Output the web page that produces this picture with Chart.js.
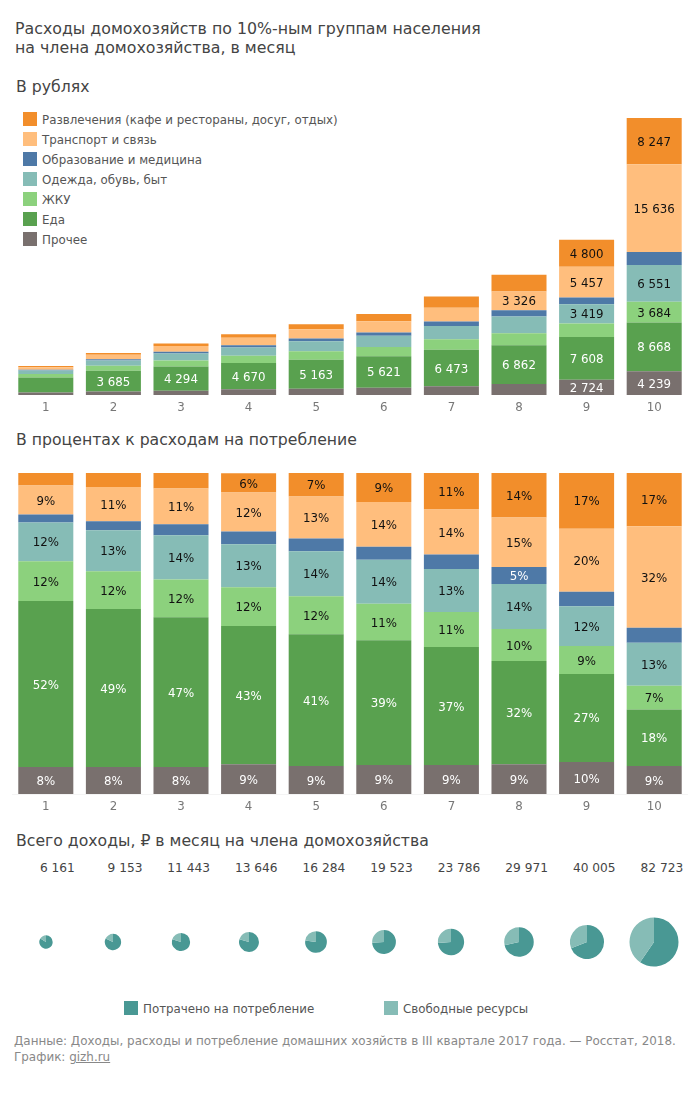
<!DOCTYPE html>
<html lang="ru">
<head>
<meta charset="utf-8">
<title>Расходы домохозяйств</title>
<script src="https://cdn.jsdelivr.net/npm/chart.js@4"></script>
<style>
  html,body{margin:0;padding:0;background:#fff;}
  body{position:relative;width:699px;height:1099px;overflow:hidden;font-family:"DejaVu Sans",sans-serif;color:#444;}
  .abs{position:absolute;white-space:nowrap;}
  canvas{position:absolute;}
  .h1{left:15px;top:19px;font-size:15.8px;line-height:19px;color:#444;}
  .h2{left:16px;font-size:15.7px;line-height:20px;color:#444;}
  .legend-row{left:23px;height:14px;font-size:11.85px;line-height:14px;color:#555;}
  .legend-row i{position:absolute;left:0;top:0;width:14px;height:14px;}
  .legend-row span{position:absolute;left:19px;top:1px;}
  .income{top:860px;font-size:12.2px;line-height:16px;color:#444;text-align:right;}
  .foot{left:14px;top:1033px;font-size:11.95px;line-height:16px;color:#888;}
  .foot a{color:#888;text-decoration:underline;}
</style>
</head>
<body>
<div class="abs h1">Расходы домохозяйств по 10%-ным группам населения<br>на члена домохозяйства, в месяц</div>
<div class="abs h2" style="top:77px">В рублях</div>
<div class="abs h2" style="top:430px">В процентах к расходам на потребление</div>
<div class="abs h2" style="top:831px">Всего доходы, ₽ в месяц на члена домохозяйства</div>
<div id="legend"></div>
<canvas id="rubChart" style="left:12px;top:118px" width="676" height="302"></canvas>
<canvas id="pctChart" style="left:12px;top:473px" width="676" height="346"></canvas>
<div id="pies"></div>
<div class="abs legend-row" style="left:124px;top:1001px"><i style="background:#499894"></i><span>Потрачено на потребление</span></div>
<div class="abs legend-row" style="left:384px;top:1001px"><i style="background:#86BCB6"></i><span>Свободные ресурсы</span></div>
<div class="abs foot">Данные: Доходы, расходы и потребление домашних хозяйств в III квартале 2017 года. — Росстат, 2018.<br>График: <a href="#">gizh.ru</a></div>

<script>
const deciles = ['1','2','3','4','5','6','7','8','9','10'];
const income  = [6161,9153,11443,13646,16284,19523,23786,29971,40005,82723];

// рубли (подписанные значения точные, остальные)
const rubOther   = [430,620,770,1010,1130,1300,1575,1980,2724,4239];
const rubFood    = [2680,3685,4294,4670,5163,5621,6473,6862,7608,8668];
const rubHousing = [640,890,1070,1310,1500,1640,1900,2140,2400,3684];
const rubClothes = [620,965,1260,1450,1760,1970,2345,3000,3419,6551];
const rubHealth  = [130,210,310,430,520,580,780,1130,1230,2300];
const rubTransp  = [460,800,1020,1310,1640,2020,2450,3326,5457,15636];
const rubLeisure = [200,330,430,640,880,1290,1995,2980,4800,8247];

// проценты
const pctOther   = [8.4,8.4,8.4,9.3,8.7,9.0,9.0,9.3,10.0,8.7];
const pctFood    = [51.7,49.2,46.7,43.0,41.1,38.9,36.8,32.1,27.4,17.6];
const pctHousing = [12.4,11.8,11.7,12.1,11.8,11.4,10.9,10.0,8.7,7.4];
const pctClothes = [12.1,12.8,13.8,13.4,14.0,13.7,13.4,14.0,12.4,13.4];
const pctHealth  = [2.5,2.8,3.4,4.0,4.0,4.0,4.5,5.3,4.5,4.7];
const pctTransp  = [9.0,10.6,11.2,12.1,13.1,14.0,14.0,15.4,19.6,31.6];
const pctLeisure = [3.9,4.4,4.8,6.0,7.3,9.0,11.4,13.9,17.4,16.7];

const seriesNames  = ['Прочее','Еда','ЖКУ','Одежда, обувь, быт','Образование и медицина','Транспорт и связь','Развлечения (кафе и рестораны, досуг, отдых)'];
const seriesColors = ['#79706E','#59A14F','#8CD17D','#86BCB6','#4E79A7','#FFBE7D','#F28E2B'];
const labelColors  = ['#fff','#fff','#111','#111','#fff','#111','#111'];

const rubSeries = [rubOther,rubFood,rubHousing,rubClothes,rubHealth,rubTransp,rubLeisure];
const pctSeries = [pctOther,pctFood,pctHousing,pctClothes,pctHealth,pctTransp,pctLeisure];

const RUB_MIN_LABEL = 3300, RUB_EXTRA_LABEL = 2724, PCT_MIN_LABEL = 5;
const FONT = '"DejaVu Sans", sans-serif';
Chart.defaults.font.family = FONT;
Chart.defaults.animation = false;

const fmt = (n)=>String(n).replace(/\B(?=(\d{3})+$)/g,' ');

// подписи внутри сегментов
const segLabels = {
  id:'segLabels',
  afterDatasetsDraw(chart, _a, opts){
    const c = chart.ctx;
    c.save();
    c.font = '11.8px '+FONT;
    c.textAlign = 'center';
    c.textBaseline = 'middle';
    chart.data.datasets.forEach((ds,di)=>{
      chart.getDatasetMeta(di).data.forEach((bar,i)=>{
        const txt = opts.text(ds.data[i]);
        if(!txt) return;
        c.fillStyle = labelColors[di];
        c.fillText(txt, bar.x, (bar.y+bar.base)/2+1.5);
      });
    });
    c.restore();
  }
};

function stacked(id, series, yMax, text, axisColor){
  return new Chart(document.getElementById(id), {
    type:'bar',
    data:{
      labels:deciles,
      datasets:series.map((data,i)=>({
        label:seriesNames[i], data,
        backgroundColor:seriesColors[i],
        barPercentage:0.814, categoryPercentage:1
      }))
    },
    options:{
      responsive:false,
      layout:{padding:0},
      plugins:{legend:{display:false},tooltip:{enabled:false},segLabels:{text}},
      scales:{
        x:{
          stacked:true,
          grid:{display:false,drawTicks:false},
          border:{color:axisColor},
          ticks:{color:'#777',font:{size:11.8},padding:6,maxRotation:0},
          afterFit:(s)=>{ s.height = 25; }
        },
        y:{stacked:true,display:false,min:0,max:yMax}
      }
    },
    plugins:[segLabels]
  });
}

const spent = deciles.map((_,i)=>rubSeries.reduce((s,a)=>s+a[i],0));

stacked('rubChart', rubSeries, Math.max(...spent),
  (v)=> (v>=RUB_MIN_LABEL || v===RUB_EXTRA_LABEL) ? fmt(v) : '', '#fff');
stacked('pctChart', pctSeries, 100,
  (v)=> v>=PCT_MIN_LABEL ? Math.round(v)+'%' : '', '#f4f4f4');

// легенда
const legend = document.getElementById('legend');
seriesNames.forEach((name,i)=>{
  const row = document.createElement('div');
  row.className = 'abs legend-row';
  row.style.top = (112+(seriesNames.length-1-i)*20)+'px';
  row.innerHTML = `<i style="background:${seriesColors[i]}"></i><span>${name}</span>`;
  legend.appendChild(row);
});

// круги: площадь пропорциональна доходу
const pies = document.getElementById('pies');
const PIE_K = 24.5/Math.sqrt(Math.max(...income)), PIE_BOX = 54, STEP = 67.6;
income.forEach((val,i)=>{
  const center = 12+STEP*(i+0.5);
  const lbl = document.createElement('div');
  lbl.className = 'abs income';
  lbl.style.left = (center+29-60)+'px';
  lbl.style.width = '60px';
  lbl.textContent = fmt(val);
  pies.appendChild(lbl);

  const cv = document.createElement('canvas');
  cv.width = PIE_BOX; cv.height = PIE_BOX;
  cv.style.left = Math.round(center-PIE_BOX/2)+'px';
  cv.style.top = (942-PIE_BOX/2)+'px';
  pies.appendChild(cv);
  new Chart(cv,{
    type:'pie',
    data:{labels:['Потрачено на потребление','Свободные ресурсы'],
      datasets:[{data:[spent[i],val-spent[i]],backgroundColor:['#499894','#86BCB6'],borderWidth:0}]},
    options:{responsive:false,radius:PIE_K*Math.sqrt(val),
      plugins:{legend:{display:false},tooltip:{enabled:false}}}
  });
});
</script>
</body>
</html>
